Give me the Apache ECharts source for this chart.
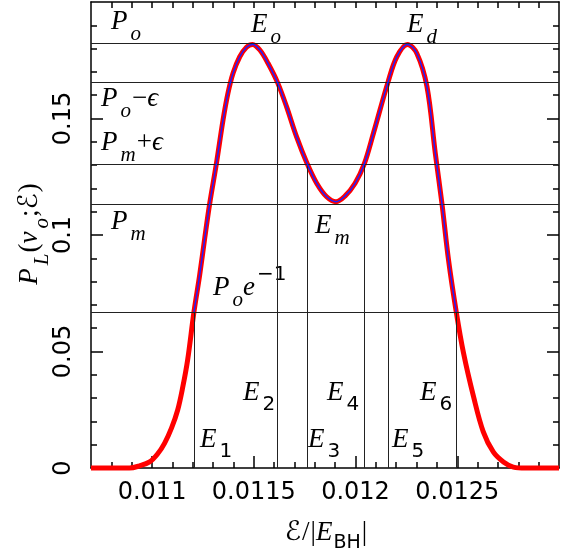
<!DOCTYPE html>
<html><head><meta charset="utf-8">
<script src="https://cdn.jsdelivr.net/npm/echarts@6/dist/echarts.min.js"></script>
<style>html,body{margin:0;padding:0;background:#fff}#c{width:570px;height:553px}</style>
</head><body><div id="c"></div>
<script>
// ---- data ----
const energy = [0.0107, 0.010860, 0.010889, 0.010938, 0.010988, 0.011027, 0.011062, 0.011096, 0.011126, 0.011150,
  0.011175, 0.011206, 0.011234, 0.011259, 0.011283, 0.011316, 0.011349, 0.011373, 0.011398, 0.011431,
  0.011464, 0.011494, 0.011530, 0.011570, 0.011617, 0.011661, 0.011710, 0.011763, 0.011809, 0.011858,
  0.011904, 0.011948, 0.011998, 0.012043, 0.012088, 0.012159, 0.012203, 0.012255, 0.012301, 0.012351,
  0.012392, 0.012425, 0.012457, 0.012495, 0.012531, 0.012580, 0.012628, 0.012677, 0.012727, 0.012776,
  0.012835, 0.013];
const prob = [0, 0, 0, 0.0009, 0.0026, 0.0060, 0.0107, 0.0172, 0.0249, 0.0343,
  0.0464, 0.0670, 0.0828, 0.0987, 0.1133, 0.1305, 0.1494, 0.1608, 0.1694, 0.1765,
  0.1806, 0.1818, 0.1794, 0.1737, 0.1654, 0.1551, 0.1422, 0.1305, 0.1222, 0.1164,
  0.1143, 0.1167, 0.1222, 0.1305, 0.1437, 0.1654, 0.1765, 0.1818, 0.1780, 0.1637,
  0.1351, 0.1133, 0.0893, 0.0670, 0.0492, 0.0306, 0.0155, 0.0069, 0.0026, 0.0004,
  0, 0];
// horizontal reference levels: Po, Po-eps, Pm+eps, Pm, Po/e
const hLevels = [0.1825, 0.1654, 0.1305, 0.1133, 0.0670];
// vertical reference energies E1..E6 and the level each reaches
const vEnergy = [0.011206, 0.011617, 0.011763, 0.012043, 0.012159, 0.012495];
const vTop = [0.0670, 0.1654, 0.1305, 0.1305, 0.1654, 0.0670];
// axes
const xMin = 0.0107, xMax = 0.013;
const xMajor = [0.011, 0.0115, 0.012, 0.0125];
const xLabels = ['0.011', '0.0115', '0.012', '0.0125'];
const yMin = 0, yMax = 0.2;
const yMajor = [0, 0.05, 0.1, 0.15];
const yLabels = ['0', '0.05', '0.1', '0.15'];
const xMinor = [], yMinor = [];
for (let i = 108; i <= 129; i++) { const v = i / 10000; if (!xMajor.some(m => Math.abs(m - v) < 1e-9)) xMinor.push(v); }
for (let i = 1; i <= 19; i++) { const v = i / 100; if (!yMajor.some(m => Math.abs(m - v) < 1e-9)) yMinor.push(v); }

const curve = energy.map((e, i) => [e, prob[i]]);
const blueCurve = curve.filter(d => d[0] >= vEnergy[0] - 1e-9 && d[0] <= vEnergy[5] + 1e-9);

// ---- text helpers ----
const ctx = document.createElement('canvas').getContext('2d');
const MATH = '"Liberation Serif","DejaVu Serif",serif';
const SANS = '"DejaVu Sans",sans-serif';
const kinds = {
  mi:  {size: 27, italic: true,  family: MATH, dy: 0,  pre: 0},
  ms:  {size: 21, italic: true,  family: MATH, dy: 11, pre: 3},
  rm:  {size: 27, italic: false, family: MATH, dy: 0,  pre: 1},
  ds:  {size: 20, italic: false, family: SANS, dy: 10, pre: 3},
  sup: {size: 20, italic: false, family: SANS, dy: -15, pre: 2},
  sfs: {size: 19, italic: false, family: SANS, dy: 8, pre: 1},
  scr: {size: 27, italic: false, family: '"DejaVu Serif","DejaVu Sans",serif', dy: 0, pre: 0}
};
function fontOf(k) { return (k.italic ? 'italic ' : '') + k.size + 'px ' + k.family; }
function baseOff(k) {
  ctx.font = fontOf(k);
  ctx.textBaseline = 'alphabetic';
  const a = ctx.measureText('M').fontBoundingBoxAscent;
  ctx.textBaseline = 'middle';
  const b = ctx.measureText('M').fontBoundingBoxAscent;
  ctx.textBaseline = 'alphabetic';
  return (a != null && b != null) ? a - b : 0.3 * k.size;
}
function layout(pieces) {
  let cx = 0; const out = [];
  pieces.forEach(([t, kn]) => {
    const k = kinds[kn];
    cx += k.pre;
    ctx.font = fontOf(k);
    const w = ctx.measureText(t).width;
    out.push({type: 'text', x: cx, y: k.dy - baseOff(k),
      style: {text: t, font: fontOf(k), fill: '#000', align: 'left', textAlign: 'left', verticalAlign: 'middle', textVerticalAlign: 'middle'}});
    cx += w;
  });
  return {els: out, width: cx};
}
function label(x, base, pieces, center, rot) {
  const L = layout(pieces);
  return {type: 'group', x: x, y: base, rotation: rot || 0, silent: true,
    children: L.els.map(e => Object.assign(e, {x: e.x - (center ? L.width / 2 : 0)}))};
}
const E = (d, x, b) => label(x, b, [['E', 'mi'], [d, 'ds']]);
const texts = [
  label(111, 29, [['P', 'mi'], ['o', 'ms']]),
  label(251, 32, [['E', 'mi'], ['o', 'ms']]),
  label(407, 32, [['E', 'mi'], ['d', 'ms']]),
  label(101, 106, [['P', 'mi'], ['o', 'ms'], ['\u2212', 'rm'], ['\u03f5', 'mi']]),
  label(101, 150, [['P', 'mi'], ['m', 'ms'], ['+', 'rm'], ['\u03f5', 'mi']]),
  label(111, 229, [['P', 'mi'], ['m', 'ms']]),
  label(315, 233, [['E', 'mi'], ['m', 'ms']]),
  label(213, 295, [['P', 'mi'], ['o', 'ms'], ['e', 'mi'], ['\u22121', 'sup']]),
  E('1', 200, 447), E('2', 243, 400), E('3', 308, 447),
  E('4', 327, 400), E('5', 392, 447), E('6', 420, 400),
  label(326, 540, [['\u2130', 'scr'], ['/', 'rm'], ['|', 'rm'], ['E', 'mi'], ['BH', 'sfs'], ['|', 'rm']], true),
  label(37, 234, [['P', 'mi'], ['L', 'ms'], ['(', 'rm'], ['\u03bd', 'mi'], ['o', 'ms'], [';', 'rm'], ['\u2130', 'scr'], [')', 'rm']], true, Math.PI / 2)
];

// ---- axes ----
const tickStyle = {color: '#000', width: 1.5};
function fmt(majors, labels) {
  return v => { const i = majors.findIndex(m => Math.abs(m - v) < 1e-9); return i >= 0 ? labels[i] : ''; };
}
function xAx(pos, vals, len, line, lab) {
  return {type: 'value', min: xMin, max: xMax, position: pos,
    axisLine: {show: line, onZero: false, lineStyle: {color: '#000', width: 1.5}},
    axisTick: {show: true, inside: true, length: len, customValues: vals, lineStyle: tickStyle},
    axisLabel: lab ? {show: true, customValues: xMajor, formatter: fmt(xMajor, xLabels), fontFamily: 'DejaVu Sans', fontSize: 24, color: '#000', margin: 13} : {show: false},
    splitLine: {show: false}, minorTick: {show: false}};
}
function yAx(pos, vals, len, line, lab) {
  return {type: 'value', min: yMin, max: yMax, position: pos,
    axisLine: {show: line, onZero: false, lineStyle: {color: '#000', width: 1.5}},
    axisTick: {show: true, inside: true, length: len, customValues: vals, lineStyle: tickStyle},
    axisLabel: lab ? {show: true, customValues: yMajor, formatter: fmt(yMajor, yLabels), rotate: 90, fontFamily: 'DejaVu Sans', fontSize: 24, color: '#000', margin: 15} : {show: false},
    splitLine: {show: false}, minorTick: {show: false}};
}

const option = {
  animation: false,
  backgroundColor: '#fff',
  grid: {left: 91, right: 11, top: 2, bottom: 85, containLabel: false},
  xAxis: [
    xAx('bottom', xMajor, 12, true, true),
    xAx('bottom', xMinor, 6, false, false),
    xAx('top', xMajor.concat(xMinor), 6, true, false)
  ],
  yAxis: [
    yAx('left', yMajor, 12, true, true),
    yAx('left', yMinor, 6, false, false),
    yAx('right', yMajor, 12, true, false),
    yAx('right', yMinor, 6, false, false)
  ],
  series: [
    {type: 'line', data: [], z: 1, silent: true,
      markLine: {silent: true, animation: false, precision: 8, symbol: ['none', 'none'], label: {show: false},
        lineStyle: {color: '#222', width: 1, type: 'solid'}, emphasis: {disabled: true},
        data: hLevels.map(v => [{coord: [xMin, v]}, {coord: [xMax, v]}])
          .concat(vEnergy.map((e, i) => [{coord: [e, 0]}, {coord: [e, vTop[i]]}]))}},
    {type: 'line', data: curve, z: 3, showSymbol: false, smooth: 0.35, clip: false, silent: true,
      lineStyle: {color: '#ff0000', width: 5, join: 'round'}},
    {type: 'line', data: blueCurve, z: 5, showSymbol: false, smooth: 0.35, clip: false, silent: true,
      lineStyle: {color: '#1f1fff', width: 1.5}}
  ],
  graphic: texts
};
const chart = echarts.init(document.getElementById('c'), null, {renderer: 'canvas'});
chart.setOption(option);
</script></body></html>
